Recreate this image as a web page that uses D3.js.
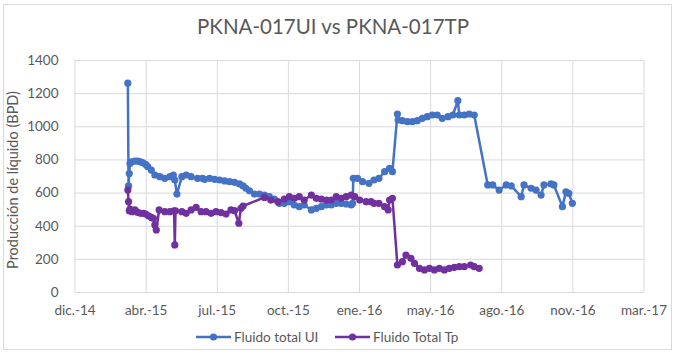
<!DOCTYPE html>
<html><head><meta charset="utf-8">
<script src="https://cdn.jsdelivr.net/npm/d3@7"></script>
<style>body{margin:0;background:#fff}svg{display:block}</style>
</head><body>
<svg id="c" width="675" height="355"></svg>
<script>
const chartTitle = "PKNA-017UI vs PKNA-017TP";
const yAxisTitle = "Producción de líquido (BPD)";
const seriesNames = ["Fluido total UI", "Fluido Total Tp"];

const uiDates = ["2015-03-12","2015-03-13","2015-03-14","2015-03-15","2015-03-17","2015-03-22","2015-03-26","2015-03-30","2015-04-02","2015-04-06","2015-04-09","2015-04-14","2015-04-19","2015-04-26","2015-05-03","2015-05-10","2015-05-15","2015-05-17","2015-05-20","2015-05-27","2015-06-02","2015-06-09","2015-06-18","2015-06-25","2015-06-28","2015-07-05","2015-07-12","2015-07-19","2015-07-26","2015-08-02","2015-08-09","2015-08-16","2015-08-21","2015-08-25","2015-08-30","2015-09-06","2015-09-13","2015-09-20","2015-09-27","2015-10-04","2015-10-11","2015-10-18","2015-10-25","2015-11-01","2015-11-08","2015-11-15","2015-11-25","2015-12-02","2015-12-09","2015-12-16","2015-12-23","2015-12-30","2016-01-06","2016-01-13","2016-01-20","2016-01-22","2016-01-23","2016-01-29","2016-02-05","2016-02-14","2016-02-21","2016-02-28","2016-03-07","2016-03-14","2016-03-18","2016-03-25","2016-03-26","2016-04-01","2016-04-08","2016-04-15","2016-04-22","2016-04-29","2016-05-06","2016-05-13","2016-05-20","2016-05-27","2016-06-04","2016-06-11","2016-06-18","2016-06-20","2016-06-27","2016-07-04","2016-07-11","2016-07-30","2016-08-06","2016-08-15","2016-08-25","2016-09-01","2016-09-15","2016-09-19","2016-09-29","2016-10-06","2016-10-13","2016-10-17","2016-10-27","2016-10-31","2016-11-12","2016-11-17","2016-11-21","2016-11-26"];
const uiValues = [1260,640,715,775,785,790,790,785,780,770,756,736,706,696,686,696,706,676,591,696,706,696,686,686,680,686,680,676,670,666,662,652,640,626,611,591,591,585,575,560,535,535,545,525,515,525,495,505,515,525,525,535,535,531,525,535,686,686,666,656,676,686,726,746,726,1074,1038,1034,1028,1028,1034,1048,1058,1068,1068,1048,1058,1068,1155,1068,1068,1074,1068,646,646,615,646,640,575,646,626,615,585,646,652,646,515,605,595,535];

const tpDates = ["2015-03-12","2015-03-13","2015-03-14","2015-03-15","2015-03-18","2015-03-22","2015-03-26","2015-03-30","2015-04-03","2015-04-06","2015-04-10","2015-04-14","2015-04-17","2015-04-19","2015-04-21","2015-04-25","2015-05-03","2015-05-10","2015-05-16","2015-05-17","2015-05-18","2015-05-27","2015-06-02","2015-06-09","2015-06-16","2015-06-23","2015-06-30","2015-07-07","2015-07-14","2015-07-21","2015-07-28","2015-08-04","2015-08-09","2015-08-15","2015-08-18","2015-08-21","2015-09-20","2015-09-29","2015-10-09","2015-10-18","2015-10-25","2015-11-01","2015-11-08","2015-11-15","2015-11-25","2015-12-02","2015-12-09","2015-12-16","2015-12-23","2015-12-30","2016-01-06","2016-01-13","2016-01-20","2016-01-25","2016-02-01","2016-02-10","2016-02-17","2016-02-21","2016-02-28","2016-03-07","2016-03-12","2016-03-14","2016-03-18","2016-03-25","2016-04-01","2016-04-06","2016-04-13","2016-04-18","2016-04-25","2016-05-02","2016-05-09","2016-05-16","2016-05-23","2016-05-30","2016-06-06","2016-06-13","2016-06-20","2016-06-27","2016-07-06","2016-07-11","2016-07-18"];
const tpValues = [615,545,490,500,485,495,480,475,475,470,460,450,445,405,374,495,485,485,490,284,490,485,475,495,511,485,485,475,485,479,470,495,491,415,505,519,571,555,545,560,575,565,575,555,585,565,560,555,555,575,565,575,585,575,555,545,545,535,535,515,495,555,565,163,183,223,203,173,143,133,143,133,143,133,143,149,153,153,163,153,143];

const yTicks = [0,200,400,600,800,1000,1200,1400];
const xTickDates = ["2014-12-27","2015-04-06","2015-07-15","2015-10-23","2016-01-31","2016-05-10","2016-08-18","2016-11-26","2017-03-06"];
const xTickLabels = ["dic.-14","abr.-15","jul.-15","oct.-15","ene.-16","may.-16","ago.-16","nov.-16","mar.-17"];

const colors = ["#4472C4", "#7030A0"];
const font = "Lato, 'Open Sans', sans-serif";
const parse = d3.utcParse("%Y-%m-%d");

const svg = d3.select("#c");
svg.append("rect").attr("x",3.5).attr("y",4.5).attr("width",668).attr("height",345)
  .attr("fill","#fff").attr("stroke","#d9d9d9");

const x = d3.scaleUtc().domain([parse(xTickDates[0]), parse(xTickDates[xTickDates.length-1])]).range([74.5, 643.5]);
const y = d3.scaleLinear().domain([0,1400]).range([292, 60]);

// gridlines
const gy = svg.append("g").attr("transform","translate(74.5,0)")
  .call(d3.axisLeft(y).tickValues(yTicks).tickSize(-569).tickFormat(""));
gy.select(".domain").remove();
gy.selectAll("line").attr("stroke","#d9d9d9");
const gx = svg.append("g").attr("transform","translate(0,292)")
  .call(d3.axisBottom(x).tickValues(xTickDates.map(parse)).tickSize(-232).tickFormat(""));
gx.select(".domain").remove();
gx.selectAll("line").attr("stroke","#d9d9d9");

// y labels
const ly = svg.append("g").attr("transform","translate(74.5,0)")
  .call(d3.axisLeft(y).tickValues(yTicks).tickSize(0).tickPadding(16).tickFormat(d3.format("d")));
ly.select(".domain").remove();
ly.selectAll("text").attr("font-family",font).attr("font-size",13.5).attr("fill","#595959");

// x labels
const lx = svg.append("g").attr("transform","translate(0,292)")
  .call(d3.axisBottom(x).tickValues(xTickDates.map(parse)).tickSize(0).tickPadding(13)
    .tickFormat((d,i)=>xTickLabels[i]));
lx.select(".domain").attr("stroke","#d9d9d9");
lx.selectAll("text").attr("font-family",font).attr("font-size",13.5).attr("fill","#595959");

// title
svg.append("text").attr("x",333).attr("y",34).attr("text-anchor","middle")
  .attr("font-family",font).attr("font-size",20.5).attr("fill","#595959").text(chartTitle);
svg.append("text").attr("transform","translate(18,180) rotate(-90)").attr("text-anchor","middle")
  .attr("font-family",font).attr("font-size",14.5).attr("fill","#595959").text(yAxisTitle);

const series = [
  {dates: uiDates, values: uiValues},
  {dates: tpDates, values: tpValues}
];
const line = d3.line().x(d=>x(d[0])).y(d=>y(d[1]));
series.forEach((s,k)=>{
  const pts = s.dates.map((d,i)=>[parse(d), s.values[i]]);
  svg.append("path").datum(pts).attr("d",line).attr("fill","none")
    .attr("stroke",colors[k]).attr("stroke-width",2.5).attr("stroke-linejoin","round");
  svg.append("g").selectAll("circle").data(pts).join("circle")
    .attr("cx",d=>x(d[0])).attr("cy",d=>y(d[1])).attr("r",3.6).attr("fill",colors[k]);
});

// legend
const legX = [196, 335];
seriesNames.forEach((n,k)=>{
  const g = svg.append("g").attr("transform",`translate(${legX[k]},337)`);
  g.append("line").attr("x1",0).attr("x2",35).attr("stroke",colors[k]).attr("stroke-width",2.5);
  g.append("circle").attr("cx",17.5).attr("r",3.6).attr("fill",colors[k]);
  g.append("text").attr("x",38).attr("y",5).attr("font-family",font).attr("font-size",13.5)
    .attr("fill","#595959").text(n);
});
</script>
</body></html>
